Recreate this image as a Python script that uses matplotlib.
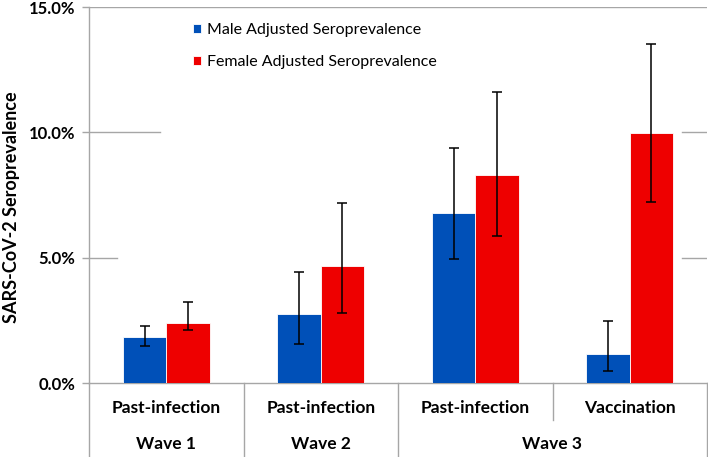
import numpy as np
import matplotlib
matplotlib.use("Agg")
import matplotlib.pyplot as plt
import matplotlib.transforms as mtransforms

# ─── DATA ─────────────────────────────────────────────────────────────────────
types = ["Past-infection", "Past-infection", "Past-infection", "Vaccination"]
waves = ["Wave 1", "Wave 2", "Wave 3"]
wave_span = [(0, 0), (1, 1), (2, 3)]   # first/last category index of each wave

male = [1.82, 2.75, 6.79, 1.15]
male_lo = [1.48, 1.54, 4.94, 0.48]
male_hi = [2.26, 4.43, 9.39, 2.47]

female = [2.39, 4.67, 8.29, 9.98]
female_lo = [2.13, 2.78, 5.86, 7.23]
female_hi = [3.22, 7.18, 11.62, 13.51]

yticks = [0, 5, 10, 15]

# ─── STYLE ────────────────────────────────────────────────────────────────────
BLUE = "#0050B8"
RED = "#EE0000"
GRID = "#A6A6A6"
FONT = "Lato"

plt.rcParams.update({"font.family": FONT})

fig = plt.figure(figsize=(7.08, 4.57), dpi=100)
ax = fig.add_axes([89/708, 1 - 383/457, 618/708, 376/457])

x = np.arange(len(types))
w = 0.28
male_err = [np.array(male) - np.array(male_lo), np.array(male_hi) - np.array(male)]
female_err = [np.array(female) - np.array(female_lo), np.array(female_hi) - np.array(female)]

ax.bar(x - w/2, male, w, color=BLUE, edgecolor="white", linewidth=0.6, zorder=3,
       label="Male Adjusted Seroprevalence")
ax.bar(x + w/2, female, w, color=RED, edgecolor="white", linewidth=0.6, zorder=3,
       label="Female Adjusted Seroprevalence")
ax.errorbar(x - w/2, male, yerr=male_err, fmt="none", ecolor="black",
            elinewidth=1.1, capsize=3.5, capthick=1.1, zorder=4)
ax.errorbar(x + w/2, female, yerr=female_err, fmt="none", ecolor="black",
            elinewidth=1.1, capsize=3.5, capthick=1.1, zorder=4)

ax.set_xlim(-0.5, len(types) - 0.5)
ax.set_ylim(0, 15)
ax.set_yticks(yticks)
ax.set_yticklabels([f"{v:.1f}%" for v in yticks], fontsize=12, fontweight="bold")
ax.set_xticks([])
ax.tick_params(axis="y", length=5, color=GRID, width=1, pad=5)

# partial gridlines (hidden in the middle, as in the original)
ax.axhline(15, color=GRID, lw=1, zorder=1)
ax.axhline(10, xmin=0, xmax=0.115, color=GRID, lw=1, zorder=1)
ax.axhline(10, xmin=0.96, xmax=1, color=GRID, lw=1, zorder=1)
ax.axhline(5, xmin=0, xmax=0.045, color=GRID, lw=1, zorder=1)
ax.axhline(5, xmin=0.96, xmax=1, color=GRID, lw=1, zorder=1)

for s in ["top", "right"]:
    ax.spines[s].set_visible(False)
for s in ["left", "bottom"]:
    ax.spines[s].set_color(GRID)
    ax.spines[s].set_linewidth(1)

ax.set_ylabel("SARS-CoV-2 Seroprevalence", fontsize=13, fontweight="bold", va="center")
ax.yaxis.set_label_coords(-0.125, 0.468)

# ─── TWO-LEVEL CATEGORY AXIS ──────────────────────────────────────────────────
trans = mtransforms.blended_transform_factory(ax.transData, ax.transAxes)
y_bottom = -74/376
y_mid = -37/376

bounds = [-0.5, 0.5, 1.5, 2.5, 3.5]
for b in bounds:
    inner = any(lo < b + 0.5 <= hi and lo <= b - 0.5 for lo, hi in wave_span)
    ax.plot([b, b], [0, y_mid if inner else y_bottom], color=GRID, lw=1,
            transform=trans, clip_on=False)

for xi, t in zip(x, types):
    ax.text(xi, -25/376, t, transform=trans, ha="center", va="center",
            fontsize=12.5, fontweight="bold")
for (lo, hi), wv in zip(wave_span, waves):
    ax.text((lo + hi) / 2, -61/376, wv, transform=trans, ha="center", va="center",
            fontsize=12.5, fontweight="bold")

leg = ax.legend(loc="upper left", bbox_to_anchor=(0.145, 0.995), frameon=False,
                fontsize=11.5, handlelength=0.5, handleheight=0.5,
                handletextpad=0.35, labelspacing=1.1)

fig.savefig("out.png", dpi=100)
